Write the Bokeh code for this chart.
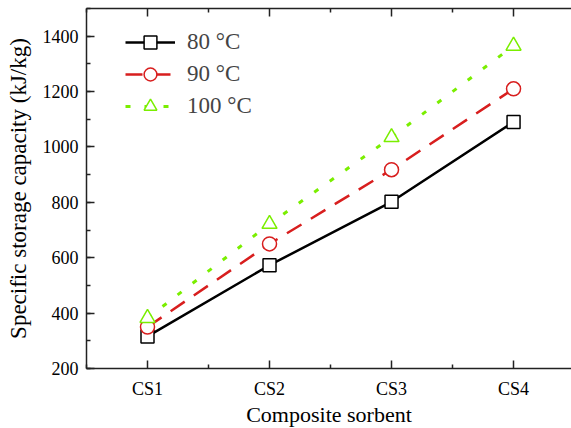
from bokeh.plotting import figure
from bokeh.models import FixedTicker, Legend, Range1d, LinearAxis
from bokeh.embed import file_html
from bokeh.resources import INLINE

categories = ["CS1", "CS2", "CS3", "CS4"]
cap_80 = [316, 573, 802, 1090]
cap_90 = [350, 650, 918, 1210]
cap_100 = [382, 722, 1035, 1365]
labels = ["80 \u00b0C", "90 \u00b0C", "100 \u00b0C"]
y_ticks = [200, 400, 600, 800, 1000, 1200, 1400]
x_title = "Composite sorbent"
y_title = "Specific storage capacity (kJ/kg)"

x = list(range(1, len(categories) + 1))
x_minor = [0.5, 1.5, 2.5, 3.5, 4.5]
FONT = "Liberation Serif"

p = figure(frame_width=485, frame_height=360, output_backend="svg", toolbar_location=None,
           x_range=Range1d(0.5, 4.475), y_range=Range1d(200, 1500),
           min_border_left=86, min_border_right=0, min_border_top=8, min_border_bottom=60)
p.grid.visible = False
p.outline_line_color = None
p.background_fill_color = "white"
p.border_fill_color = "white"

bottom = p.below[0]
left = p.left[0]
top = LinearAxis(axis_label=None, major_label_standoff=0)
p.add_layout(top, "above")

for ax in (bottom, top):
    ax.ticker = FixedTicker(ticks=x, minor_ticks=x_minor)
bottom.major_label_overrides = {xi: c for xi, c in zip(x, categories)}
top.major_label_overrides = {xi: "" for xi in x}
left.ticker = FixedTicker(ticks=y_ticks, minor_ticks=list(range(200, 1501, 100)))

for ax in (bottom, top, left):
    ax.major_tick_in = 8
    ax.major_tick_out = 0
    ax.minor_tick_in = 4
    ax.minor_tick_out = 0
    ax.axis_line_width = 1.5
    ax.axis_line_color = "#222222"
    ax.major_tick_line_color = "#222222"
    ax.minor_tick_line_color = "#222222"
    ax.major_tick_line_width = 1.5
    ax.minor_tick_line_width = 1.5
    ax.major_label_text_font = FONT
    ax.major_label_text_font_size = "18px"
    ax.major_label_text_color = "black"
    ax.axis_label_text_font = FONT
    ax.axis_label_text_font_size = "22px"
    ax.axis_label_text_font_style = "normal"
    ax.axis_label_text_color = "black"
top.major_label_text_font_size = "1px"
left.axis_label_text_font_size = "23px"

bottom.axis_label = x_title
left.axis_label = y_title
bottom.major_label_standoff = 10
bottom.axis_label_standoff = 0
left.major_label_standoff = 8
left.axis_label_standoff = 9

series = [
    (cap_80, "black", "solid", "square", 13, 2.5),
    (cap_90, "#d81e1e", "17 11", "circle", 14, 2.5),
    (cap_100, "#7aee00", "5 14", "triangle", 15, 3),
]
items = []
for (vals, color, dash, marker, size, lw), lab in zip(series, labels):
    r1 = p.line(x, vals, line_color=color, line_width=lw, line_dash=dash)
    r2 = p.scatter(x, vals, marker=marker, size=size, line_color=color,
                   fill_color="white", line_width=1.5)
    items.append((lab, [r1, r2]))

legend = Legend(items=items, location=(39, 246))
legend.border_line_color = None
legend.background_fill_alpha = 0
legend.label_text_font = FONT
legend.label_text_font_size = "23px"
legend.glyph_width = 50
legend.glyph_height = 32
legend.label_height = 32
legend.spacing = 0
legend.padding = 0
legend.margin = 0
legend.label_standoff = 12
p.add_layout(legend)

open("out.html", "w").write(file_html(p, INLINE))
